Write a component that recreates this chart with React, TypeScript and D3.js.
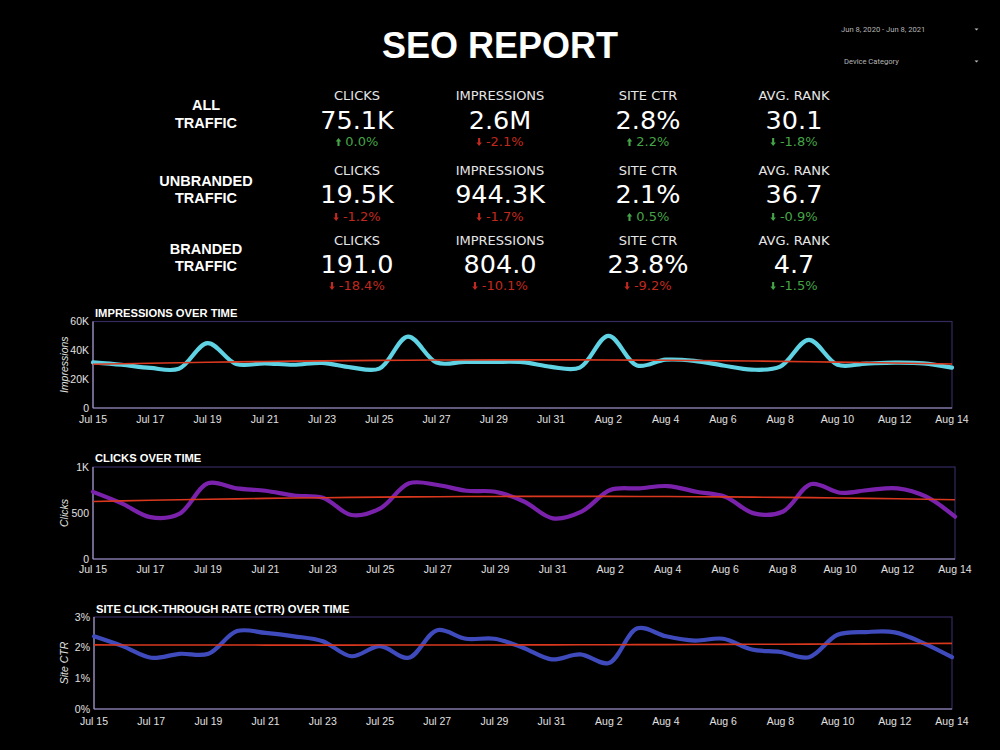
import React from "react";
import * as d3 from "d3";

// ---- Data -------------------------------------------------------------
const startDay = new Date(2020, 6, 15);
const endDay = new Date(2020, 7, 14);

// daily impressions (thousands), Jul 15 .. Aug 14
const impressions = [
  31.7, 30.0, 27.8, 27.2, 45.0, 30.5, 31.0, 30.0, 31.3, 28.2, 27.3, 49.5, 31.5, 32.0, 32.0, 31.8,
  28.5, 28.0, 50.0, 29.5, 33.5, 32.7, 29.5, 26.6, 28.7, 47.3, 30.0, 30.8, 31.5, 31.0, 28.0,
];
// daily clicks
const clicks = [
  730, 605, 455, 490, 823, 768, 742, 690, 665, 478, 551, 823, 804, 742, 731, 625,
  442, 514, 750, 768, 793, 731, 677, 496, 514, 815, 720, 750, 768, 677, 460,
];
// daily site CTR (%)
const ctr = [
  2.37, 2.05, 1.67, 1.8, 1.8, 2.54, 2.48, 2.37, 2.21, 1.72, 2.05, 1.67, 2.57, 2.29, 2.29, 2.0,
  1.62, 1.78, 1.5, 2.63, 2.37, 2.23, 2.29, 1.94, 1.86, 1.69, 2.42, 2.51, 2.5, 2.15, 1.69,
];

const segmentLabels = [
  ["ALL", "TRAFFIC"],
  ["UNBRANDED", "TRAFFIC"],
  ["BRANDED", "TRAFFIC"],
];
const metricNames = ["CLICKS", "IMPRESSIONS", "SITE CTR", "AVG. RANK"];
const kpiValues = [
  ["75.1K", "2.6M", "2.8%", "30.1"],
  ["19.5K", "944.3K", "2.1%", "36.7"],
  ["191.0", "804.0", "23.8%", "4.7"],
];
const kpiDeltas = [
  [0.0, -2.1, 2.2, -1.8],
  [-1.2, -1.7, 0.5, -0.9],
  [-18.4, -10.1, -9.2, -1.5],
];
// lower average rank is an improvement
const invertedMetric = [false, false, false, true];

const dateRangeLabel = "Jun 8, 2020 - Jun 8, 2021";
const deviceLabel = "Device Category";

// ---- Layout -----------------------------------------------------------
const W = 1000;
const H = 750;
const GREEN = "#45a447";
const RED = "#c0291f";
const TREND = "#d9381e";
const labelFont = "'DejaVu Sans', Verdana, sans-serif";
const boldFont = "'Liberation Sans', Arial, sans-serif";
const tickFont = "'Liberation Sans', Arial, sans-serif";

const kpiCols = [357, 500, 648, 794];
const labelBase = [100, 175, 245];
const valueBase = [129, 203, 273];
const deltaBase = [146, 221, 290];
const segBase = [
  [110, 128],
  [186, 203],
  [254, 271],
];

type ChartSpec = {
  title: string;
  yTitle: string;
  values: number[];
  color: string;
  domain: [number, number];
  ticks: number[];
  fmt: (v: number) => string;
  left: number;
  right: number;
  top: number;
  bottom: number;
  titleY: number;
  tickY: number;
};

const charts: ChartSpec[] = [
  {
    title: "IMPRESSIONS OVER TIME",
    yTitle: "Impressions",
    values: impressions,
    color: "#5fd3e4",
    domain: [0, 60],
    ticks: [0, 20, 40, 60],
    fmt: (v) => (v === 0 ? "0" : `${v}K`),
    left: 93,
    right: 952,
    top: 321.5,
    bottom: 408,
    titleY: 317,
    tickY: 423,
  },
  {
    title: "CLICKS OVER TIME",
    yTitle: "Clicks",
    values: clicks,
    color: "#7b22ad",
    domain: [0, 1000],
    ticks: [0, 500, 1000],
    fmt: (v) => (v === 1000 ? "1K" : `${v}`),
    left: 93,
    right: 955,
    top: 467,
    bottom: 559,
    titleY: 462,
    tickY: 573,
  },
  {
    title: "SITE CLICK-THROUGH RATE (CTR) OVER TIME",
    yTitle: "Site CTR",
    values: ctr,
    color: "#3f4bbd",
    domain: [0, 3],
    ticks: [0, 1, 2, 3],
    fmt: (v) => `${v}%`,
    left: 94,
    right: 952,
    top: 617,
    bottom: 709,
    titleY: 613,
    tickY: 725,
  },
];

// Least-squares quadratic trend through the series
function quadraticTrend(ys: number[]): number[] {
  const n = ys.length;
  const s = [0, 0, 0, 0, 0];
  const t = [0, 0, 0];
  for (let i = 0; i < n; i++) {
    const x = i / (n - 1);
    for (let k = 0; k < 5; k++) s[k] += Math.pow(x, k);
    for (let k = 0; k < 3; k++) t[k] += ys[i] * Math.pow(x, k);
  }
  const m = [
    [s[0], s[1], s[2], t[0]],
    [s[1], s[2], s[3], t[1]],
    [s[2], s[3], s[4], t[2]],
  ];
  for (let c = 0; c < 3; c++) {
    for (let r = c + 1; r < 3; r++) {
      const f = m[r][c] / m[c][c];
      for (let k = c; k < 4; k++) m[r][k] -= f * m[c][k];
    }
  }
  const b = [0, 0, 0];
  for (let r = 2; r >= 0; r--) {
    let v = m[r][3];
    for (let k = r + 1; k < 3; k++) v -= m[r][k] * b[k];
    b[r] = v / m[r][r];
  }
  return ys.map((_, i) => {
    const x = i / (n - 1);
    return b[0] + b[1] * x + b[2] * x * x;
  });
}

const days = d3.timeDay.range(startDay, d3.timeDay.offset(endDay, 1));
const tickDays = days.filter((_, i) => i % 2 === 0);
const fmtDay = d3.timeFormat("%b %-d");

function approxWidth(s: string, size: number) {
  let w = 0;
  for (const ch of s) {
    if (ch === ".") w += 0.318;
    else if (ch === "%") w += 0.95;
    else if (ch === "-") w += 0.361;
    else w += 0.636;
  }
  return w * size;
}

function Arrow({ x, y, up, color }: { x: number; y: number; up: boolean; color: string }) {
  // y is the vertical centre of the arrow
  const h = 8;
  const d = up
    ? `M${x + 2.75},${y - h / 2} L${x + 5.5},${y - h / 2 + 3.6} L${x + 3.8},${y - h / 2 + 3.6} L${x + 3.8},${y + h / 2} L${x + 1.7},${y + h / 2} L${x + 1.7},${y - h / 2 + 3.6} L${x},${y - h / 2 + 3.6} Z`
    : `M${x + 2.75},${y + h / 2} L${x + 5.5},${y + h / 2 - 3.6} L${x + 3.8},${y + h / 2 - 3.6} L${x + 3.8},${y - h / 2} L${x + 1.7},${y - h / 2} L${x + 1.7},${y + h / 2 - 3.6} L${x},${y + h / 2 - 3.6} Z`;
  return <path d={d} fill={color} />;
}

function LineChart({ spec }: { spec: ChartSpec }) {
  const x = d3.scaleTime().domain([startDay, endDay]).range([spec.left, spec.right]);
  const y = d3.scaleLinear().domain(spec.domain).range([spec.bottom, spec.top]);
  const line = d3
    .line<number>()
    .x((_, i) => x(days[i]))
    .y((v) => y(v))
    .curve(d3.curveCatmullRom.alpha(0.5));
  const trendLine = d3
    .line<number>()
    .x((_, i) => x(days[i]))
    .y((v) => y(v));
  const trend = quadraticTrend(spec.values);
  const midY = (spec.top + spec.bottom) / 2;
  return (
    <g>
      <text x={spec.left + 2} y={spec.titleY} fill="#fff" fontFamily={boldFont} fontWeight="bold" fontSize={11.2}>
        {spec.title}
      </text>
      <rect
        x={spec.left}
        y={spec.top}
        width={spec.right - spec.left}
        height={spec.bottom - spec.top}
        fill="none"
        stroke="#35295e"
        strokeWidth={1.2}
      />
      <line x1={spec.left} x2={spec.left} y1={spec.top} y2={spec.bottom} stroke="#a69cc4" strokeWidth={1.2} />
      <line x1={spec.left} x2={spec.right} y1={spec.bottom} y2={spec.bottom} stroke="#a69cc4" strokeWidth={1.2} />
      {spec.ticks.map((t) => (
        <text
          key={t}
          x={spec.left - 4}
          y={y(t)}
          dy="0.35em"
          textAnchor="end"
          fill="#e0e0e0"
          fontFamily={tickFont}
          fontSize={10.5}
        >
          {spec.fmt(t)}
        </text>
      ))}
      {tickDays.map((d) => (
        <text
          key={d.getTime()}
          x={x(d)}
          y={spec.tickY}
          textAnchor="middle"
          fill="#e0e0e0"
          fontFamily={tickFont}
          fontSize={10.5}
        >
          {fmtDay(d)}
        </text>
      ))}
      <text
        transform={`translate(64,${midY}) rotate(-90)`}
        textAnchor="middle"
        dy="0.35em"
        fill="#e0e0e0"
        fontFamily={tickFont}
        fontStyle="italic"
        fontSize={10.5}
      >
        {spec.yTitle}
      </text>
      <path
        d={line(spec.values) || ""}
        fill="none"
        stroke={spec.color}
        strokeWidth={4.2}
        strokeLinecap="round"
        strokeLinejoin="round"
      />
      <path d={trendLine(trend) || ""} fill="none" stroke={TREND} strokeWidth={1.6} />
    </g>
  );
}

export default function App() {
  return (
    <svg
      width={W}
      height={H}
      style={{ position: "absolute", left: 0, top: 0, display: "block" }}
    >
      <rect width={W} height={H} fill="#000" />
      <text x={500} y={58} textAnchor="middle" fill="#fff" fontFamily={boldFont} fontWeight="bold" fontSize={36}>
        SEO REPORT
      </text>

      {/* date range and filter controls */}
      <text x={841} y={32} fill="#b5b5b5" fontFamily="Roboto, sans-serif" fontSize={7.6}>
        {dateRangeLabel}
      </text>
      <path d="M974.5,28.5 L978.5,28.5 L976.5,30.5 Z" fill="#bbb" />
      <text x={844} y={64} fill="#b5b5b5" fontFamily="Roboto, sans-serif" fontSize={7.6}>
        {deviceLabel}
      </text>
      <path d="M974.5,60.5 L978.5,60.5 L976.5,62.5 Z" fill="#bbb" />

      {/* KPI scorecards */}
      {segmentLabels.map((lines, r) => (
        <g key={r}>
          {lines.map((ln, k) => (
            <text
              key={k}
              x={206}
              y={segBase[r][k]}
              textAnchor="middle"
              fill="#fff"
              fontFamily={boldFont}
              fontWeight="bold"
              fontSize={14.5}
            >
              {ln}
            </text>
          ))}
          {metricNames.map((m, c) => {
            const delta = kpiDeltas[r][c];
            const up = delta >= 0;
            const good = invertedMetric[c] ? !up : up;
            const color = good ? GREEN : RED;
            const txt = `${delta.toFixed(1)}%`;
            const tw = approxWidth(txt, 13);
            const total = 5.5 + 4 + tw;
            const sx = kpiCols[c] - total / 2;
            return (
              <g key={c}>
                <text x={kpiCols[c]} y={labelBase[r]} textAnchor="middle" fill="#e6e6e6" fontFamily={labelFont} fontSize={13}>
                  {m}
                </text>
                <text x={kpiCols[c]} y={valueBase[r]} textAnchor="middle" fill="#fff" fontFamily={labelFont} fontSize={25.5}>
                  {kpiValues[r][c]}
                </text>
                <Arrow x={sx} y={deltaBase[r] - 4} up={up} color={color} />
                <text x={sx + 9.5} y={deltaBase[r]} fill={color} fontFamily={labelFont} fontSize={13}>
                  {txt}
                </text>
              </g>
            );
          })}
        </g>
      ))}

      {charts.map((c) => (
        <LineChart key={c.title} spec={c} />
      ))}
    </svg>
  );
}
